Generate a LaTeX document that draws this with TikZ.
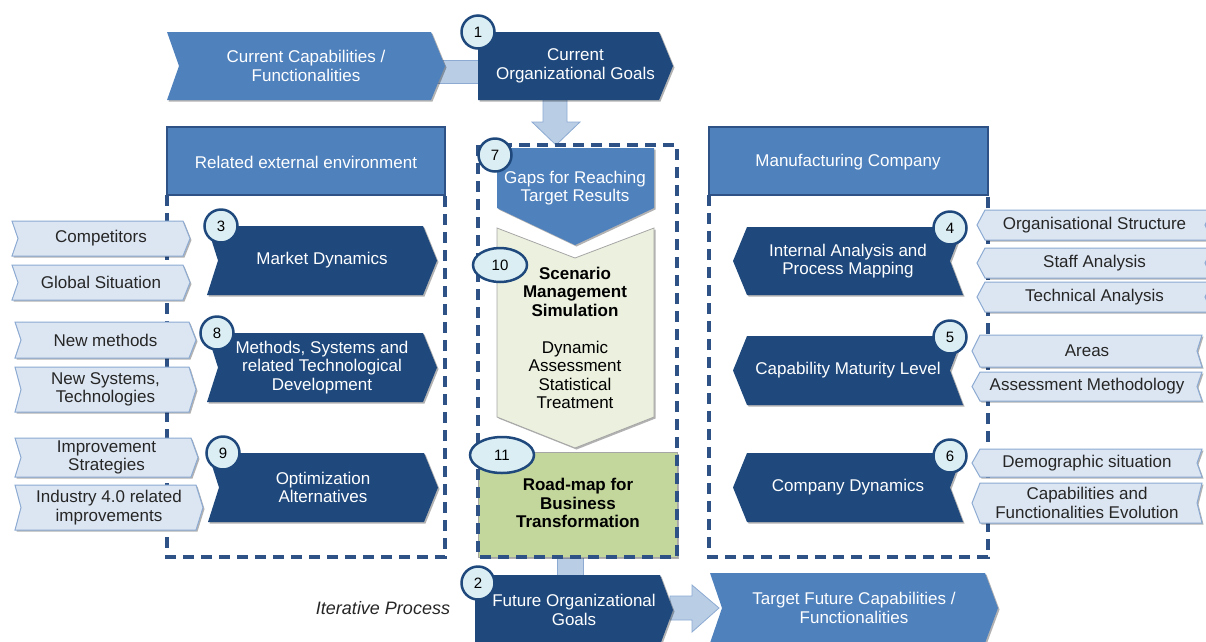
\documentclass[tikz,border=0pt]{standalone}
\usepackage{fontspec}
\setmainfont{Liberation Sans}
\usepackage{tikz}
\usetikzlibrary{shadows,shapes.geometric}

\definecolor{dkblue}{RGB}{31,73,125}
\definecolor{mdblue}{RGB}{79,129,189}
\definecolor{ltblue}{RGB}{220,230,242}
\definecolor{ltborder}{RGB}{140,170,210}
\definecolor{barblue}{RGB}{185,205,229}
\definecolor{dashblue}{RGB}{47,82,134}
\definecolor{circfill}{RGB}{218,238,243}
\definecolor{simgreen}{RGB}{235,241,222}
\definecolor{mapgreen}{RGB}{195,214,155}
\definecolor{txtgray}{RGB}{38,38,38}

\newcommand{\lblfont}{\fontsize{17}{18.5}\selectfont}

\tikzset{
  shade it/.style={drop shadow={shadow xshift=1.5pt,shadow yshift=-1.5pt,opacity=.3,fill=black}},
  dark shape/.style={fill=dkblue,shade it},
  dark label/.style={text=white,align=center,font=\lblfont,inner sep=0pt},
  mid shape/.style={fill=mdblue,shade it},
  mid label/.style={text=white,align=center,font=\lblfont,inner sep=0pt},
  light shape/.style={fill=ltblue,draw=ltborder,line width=1pt,shade it},
  light label/.style={text=txtgray,align=center,font=\lblfont,inner sep=0pt},
  head shape/.style={fill=mdblue,draw=dashblue,line width=1.5pt},
  bar shape/.style={fill=barblue,draw=ltborder,line width=.8pt},
  sim shape/.style={fill=simgreen,draw=gray!70,line width=.8pt,shade it},
  map shape/.style={fill=mapgreen,draw=gray!70,line width=.8pt,shade it},
  sim label/.style={text=black,align=center,font=\lblfont,inner sep=0pt},
  panel/.style={draw=dashblue,line width=3.4pt,dash pattern=on 11pt off 7pt},
  numcirc/.style={circle,fill=circfill,draw=dkblue,line width=2.5pt,minimum size=33pt,
    inner sep=0pt,font=\fontsize{15}{15}\selectfont},
  numoval/.style={ellipse,fill=circfill,draw=dkblue,line width=2.5pt,minimum width=54pt,
    minimum height=34pt,inner sep=0pt,font=\fontsize{15}{15}\selectfont}
}

% chevron to the right: style, name, x1, y1, x2, y2, notch, tip, text
\newcommand{\chevright}[9]{%
  \path[#1 shape] (#3,#4) -- ({#5-#8},#4) -- (#5,{(#4+#6)/2}) -- ({#5-#8},#6)
    -- (#3,#6) -- ({#3+#7},{(#4+#6)/2}) -- cycle;
  \node[#1 label] (#2) at ({(#3+#5)/2},{(#4+#6)/2}) {#9};}
% chevron to the left
\newcommand{\chevleft}[9]{%
  \path[#1 shape] ({#3+#8},#4) -- (#5,#4) -- ({#5-#7},{(#4+#6)/2}) -- (#5,#6)
    -- ({#3+#8},#6) -- (#3,{(#4+#6)/2}) -- cycle;
  \node[#1 label] (#2) at ({(#3+#5)/2},{(#4+#6)/2}) {#9};}

\begin{document}
\begin{tikzpicture}[x=1pt,y=-1pt]
\useasboundingbox (0,0) rectangle (1206,641);

\path[bar shape] (436,60) rectangle (482,83);
\path[bar shape] (543,98) -- (567,98) -- (567,122) -- (580,122) -- (556,145)
  -- (532,122) -- (543,122) -- cycle;
\path[bar shape] (557,555) rectangle (583,577);
\path[bar shape] (670,596) -- (692,596) -- (692,585) -- (719,608) -- (692,632)
  -- (692,620) -- (670,620) -- cycle;

\chevright{mid}{curcap}{167}{32}{445}{100}{12}{14}{Current Capabilities /\\Functionalities}
\chevright{dark}{curgoals}{478}{32}{673}{100}{0}{14}{Current\\Organizational Goals}

% side panels
\draw[panel] (167,195) -- (167,557) -- (445,557) -- (445,195);
\draw[panel] (709,195) -- (709,557) -- (988,557) -- (988,195);
\path[head shape] (167,127) rectangle (445,195);
\node[mid label] (extenv) at (306,162) {Related external environment};
\path[head shape] (709,127) rectangle (988,195);
\node[mid label] (company) at (848,162) {Manufacturing Company};

\chevright{dark}{market}{207}{226}{437}{295}{11}{14}{Market Dynamics}
\chevright{dark}{methods}{207}{333}{437}{402}{11}{14}{Methods, Systems and\\related Technological\\Development}
\chevright{dark}{optim}{208}{453}{438}{522}{11}{14}{Optimization\\Alternatives}
\chevright{light}{compet}{12}{221}{190}{256}{6}{7}{Competitors}
\chevright{light}{global}{12}{265}{190}{300}{6}{7}{Global Situation}
\chevright{light}{newmeth}{15}{322}{196}{358}{6}{7}{New methods}
\chevright{light}{newsys}{15}{367}{196}{412}{6}{7}{New Systems,\\Technologies}
\chevright{light}{improve}{15}{438}{198}{477}{6}{7}{Improvement\\Strategies}
\chevright{light}{industry}{15}{485}{203}{530}{6}{7}{Industry 4.0 related\\improvements}

\chevleft{dark}{internal}{733}{227}{963}{295}{13}{14}{Internal Analysis and\\Process Mapping}
\chevleft{dark}{maturity}{733}{336}{963}{405}{13}{14}{Capability Maturity Level}
\chevleft{dark}{compdyn}{733}{453}{963}{522}{13}{14}{Company Dynamics}
\chevleft{light}{orgstruct}{977}{210}{1212}{240}{7}{8}{Organisational Structure}
\chevleft{light}{staff}{977}{248}{1212}{278}{7}{8}{Staff Analysis}
\chevleft{light}{technical}{977}{282}{1212}{312}{7}{8}{Technical Analysis}
\chevleft{light}{areas}{972}{335}{1202}{367}{5}{8}{Areas}
\chevleft{light}{assess}{972}{372}{1202}{401}{5}{8}{Assessment Methodology}
\chevleft{light}{demo}{972}{449}{1202}{477}{5}{8}{Demographic situation}
\chevleft{light}{capevol}{972}{483}{1202}{523}{5}{8}{Capabilities and\\Functionalities Evolution}

% centre column
\path[sim shape] (497,228) -- (575,258) -- (654,228) -- (654,417) -- (575,448)
  -- (497,417) -- cycle;
\path[mid shape] (497,148) -- (654,148) -- (654,208) -- (575,245) -- (497,208) -- cycle;
\node[mid label] (gaps) at (575,188) {Gaps for Reaching\\Target Results};
\node[sim label] (scenario) at (575,338) {\textbf{Scenario}\\\textbf{Management}\\
  \textbf{Simulation}\\[18.5pt]Dynamic\\Assessment\\Statistical\\Treatment};
\path[map shape] (478,452) rectangle (677,557);
\node[sim label] (roadmap) at (578,503) {\textbf{Road-map for}\\\textbf{Business}\\
  \textbf{Transformation}};
\draw[panel] (478,145) rectangle (677,557);

\chevright{dark}{futgoals}{475}{575}{673}{645}{0}{13}{Future Organizational\\Goals}
\chevright{mid}{target}{710}{573}{998}{643}{12}{13}{Target Future Capabilities /\\Functionalities}
\node[font=\itshape\fontsize{18}{20}\selectfont,text=txtgray] (iter) at (383,608) {Iterative Process};

\node[numcirc] (c1) at (478,32) {1};
\node[numcirc] (c2) at (478,583) {2};
\node[numcirc] (c3) at (221,226) {3};
\node[numcirc] (c4) at (950,228) {4};
\node[numcirc] (c5) at (950,337) {5};
\node[numcirc] (c6) at (950,456) {6};
\node[numcirc] (c7) at (495,155) {7};
\node[numcirc] (c8) at (217,333) {8};
\node[numcirc] (c9) at (223,453) {9};
\node[numoval] (c10) at (500,265) {10};
\node[numoval,minimum width=64pt,minimum height=36pt] (c11) at (502,455) {11};
\end{tikzpicture}
\end{document}
